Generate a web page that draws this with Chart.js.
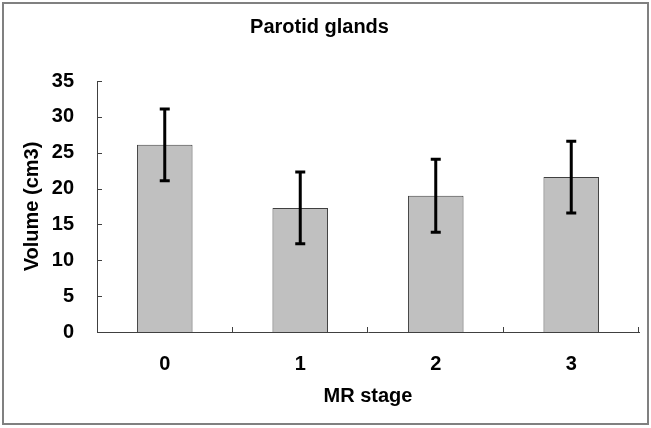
<!DOCTYPE html>
<html>
<head>
<meta charset="utf-8">
<script src="https://cdn.jsdelivr.net/npm/chart.js@4"></script>
<style>
  html, body { margin: 0; padding: 0; background: #fff; }
  #wrap { width: 651px; height: 428px; position: relative; }
</style>
</head>
<body>
<div id="wrap"><canvas id="myChart"></canvas></div>
<script>
// data
const stages = ['0', '1', '2', '3'];
const volumes = [26.1, 17.3, 19.0, 21.6];
const errors = [5.0, 5.0, 5.1, 5.0];
const yMin = 0, yMax = 35, yStep = 5;

const FONT = "'Liberation Sans', Arial, sans-serif";
const axisColor = '#404040';

// whole-picture frame
const framePlugin = {
  id: 'frame',
  beforeDraw(chart) {
    const ctx = chart.ctx;
    ctx.save();
    ctx.fillStyle = '#fff';
    ctx.fillRect(0, 0, chart.width, chart.height);
    ctx.strokeStyle = '#808080';
    ctx.lineWidth = 2;
    ctx.strokeRect(3, 3, chart.width - 6, chart.height - 7);
    ctx.restore();
  }
};

// ticks pointing into the plot
const innerTicks = {
  id: 'innerTicks',
  afterDraw(chart) {
    const ctx = chart.ctx;
    const x = chart.scales.x, y = chart.scales.y;
    const area = chart.chartArea;
    ctx.save();
    ctx.strokeStyle = axisColor;
    ctx.lineWidth = 1;
    ctx.beginPath();
    y.ticks.forEach(t => {
      const py = Math.round(y.getPixelForValue(t.value)) + 0.5;
      ctx.moveTo(area.left, py);
      ctx.lineTo(area.left + 5, py);
    });
    const n = stages.length;
    const w = (area.right - area.left) / n;
    for (let i = 1; i <= n; i++) {
      const px = Math.round(area.left + i * w) - 0.5;
      ctx.moveTo(px, area.bottom);
      ctx.lineTo(px, area.bottom - 5);
    }
    ctx.stroke();
    ctx.restore();
  }
};

// error bars
const errorBars = {
  id: 'errorBars',
  afterDatasetsDraw(chart) {
    const ctx = chart.ctx;
    const y = chart.scales.y;
    const meta = chart.getDatasetMeta(0);
    ctx.save();
    ctx.strokeStyle = '#000';
    ctx.lineWidth = 3;
    meta.data.forEach((bar, i) => {
      const top = y.getPixelForValue(volumes[i] + errors[i]);
      const bot = y.getPixelForValue(volumes[i] - errors[i]);
      ctx.beginPath();
      ctx.moveTo(bar.x, top);
      ctx.lineTo(bar.x, bot);
      ctx.moveTo(bar.x - 5, top);
      ctx.lineTo(bar.x + 5, top);
      ctx.moveTo(bar.x - 5, bot);
      ctx.lineTo(bar.x + 5, bot);
      ctx.stroke();
    });
    ctx.restore();
  }
};

const ctx = document.getElementById('myChart');
const myChart = new Chart(ctx, {
  type: 'bar',
  data: {
    labels: stages,
    datasets: [{
      data: volumes,
      backgroundColor: '#c0c0c0',
      borderColor: axisColor,
      borderWidth: 1,
      categoryPercentage: 1,
      barPercentage: 0.41
    }]
  },
  options: {
    responsive: true,
    maintainAspectRatio: false,
    animation: false,
    layout: { padding: { left: 0, right: 12, top: 0, bottom: 0 } },
    plugins: {
      legend: { display: false },
      tooltip: { enabled: false },
      title: {
        display: true,
        text: 'Parotid glands',
        color: '#000',
        font: { family: FONT, size: 20, weight: 'bold' },
        padding: { top: 15, bottom: 42 }
      }
    },
    scales: {
      x: {
        offset: true,
        grid: { display: false, drawTicks: false },
        border: { display: true, color: axisColor, width: 1 },
        ticks: { color: '#000', padding: 20, font: { family: FONT, size: 20, weight: 'bold' } },
        title: {
          display: true,
          text: 'MR stage',
          color: '#000',
          font: { family: FONT, size: 20, weight: 'bold' },
          padding: { top: 0, bottom: 20 }
        },
        afterFit(scale) { scale.height = 96; }
      },
      y: {
        min: yMin,
        max: yMax,
        grid: { display: false, drawTicks: false },
        border: { display: true, color: axisColor, width: 1 },
        ticks: { stepSize: yStep, color: '#000', padding: 23, font: { family: FONT, size: 20, weight: 'bold' } },
        title: {
          display: true,
          text: 'Volume (cm3)',
          color: '#000',
          font: { family: FONT, size: 20, weight: 'bold' },
          padding: { top: 20, bottom: 0 }
        },
        afterFit(scale) { scale.width = 97; }
      }
    }
  },
  plugins: [framePlugin, innerTicks, errorBars]
});
</script>
</body>
</html>
